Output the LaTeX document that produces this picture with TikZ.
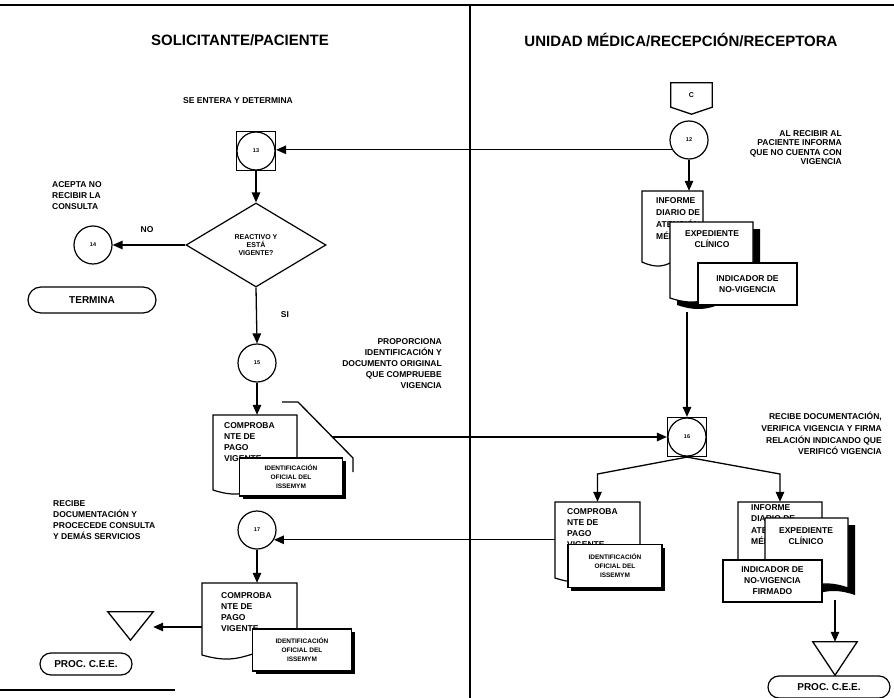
\documentclass[tikz,border=0pt]{standalone}
\usepackage{fontspec}
\setmainfont{Liberation Sans}
\usetikzlibrary{arrows.meta,shapes.geometric,fit,shadows}

% document symbol: flat top, wavy bottom; #1 extra style, #2 name, (#3,#4) top left, (#5,#6) bottom left end of the wave
\newcommand\drawdoc[6][]{%
  \filldraw[docline,#1] (#3,#4) -- (#5,#4) -- (#5,#6)
    .. controls ({(#3+#5)/2},{#6-14}) and ({(#3+#5)/2},{#6+14}) .. (#3,#6) -- cycle;
  \node[fit={(#3,#4) (#5,#6)}, inner sep=0pt] (#2) {};}
% same symbol with a solid black shadow offset by #6
\newcommand\shadowdoc[6]{%
  \begin{scope}[shift={(#6,#6)}]
    \fill[black] (#2,#3) -- (#4,#3) -- (#4,#5)
      .. controls ({(#2+#4)/2},{#5-14}) and ({(#2+#4)/2},{#5+14}) .. (#2,#5) -- cycle;
  \end{scope}
  \drawdoc{#1}{#2}{#3}{#4}{#5}}

\begin{document}
\begin{tikzpicture}[x=1pt,y=-1pt,
  frame/.style={line width=1.2pt},
  conn/.style={line width=1.3pt},
  arrow/.style={conn,-{Triangle[length=10pt,width=8.5pt]}},
  head/.style={font=\fontsize{15}{17}\selectfont\bfseries,inner sep=0pt},
  lbl/.style={font=\fontsize{8.5}{11}\selectfont\bfseries,inner sep=0pt},
  num/.style={font=\fontsize{5.5}{6}\selectfont\bfseries},
  stepcircle/.style={circle,draw,line width=1.2pt,minimum size=38pt,inner sep=0pt,fill=white,num},
  ringbox/.style={rectangle,draw,line width=1.2pt,minimum size=39pt,inner sep=0pt,fill=white,num,
    path picture={\draw[line width=1.2pt] (path picture bounding box.center) circle (19pt);}},
  decision/.style={diamond,draw,line width=1.2pt,minimum width=140pt,minimum height=84pt,
    aspect=1.67,inner sep=0pt,align=center,font=\fontsize{7}{8}\selectfont\bfseries},
  terminal/.style={rectangle,rounded corners=11pt,draw,line width=1.2pt,inner sep=0pt,
    font=\fontsize{10}{12}\selectfont\bfseries},
  docline/.style={line width=1.2pt,draw=black,fill=white},
  doctxt/.style={font=\fontsize{8.5}{11}\selectfont\bfseries,inner sep=0pt,align=left},
  idbox/.style={rectangle,draw,line width=1.2pt,fill=white,inner sep=0pt,align=center,
    font=\fontsize{6.5}{9}\selectfont\bfseries,
    drop shadow={shadow xshift=3pt,shadow yshift=-3pt,opacity=1,fill=black}},
  plainbox/.style={rectangle,draw,line width=1.2pt,fill=white,inner sep=0pt,align=center,
    font=\fontsize{8.5}{11}\selectfont\bfseries}]
\useasboundingbox (0,0) rectangle (894,698);

% page frame and swimlane divider
\draw[frame] (0,5) -- (894,5);
\draw[frame] (470,5) -- (470,698);
\draw[frame] (0,690) -- (175,690);

\node[head] (hL) at (240,40) {SOLICITANTE/PACIENTE};
\node[head] (hR) at (681,40) {UNIDAD MÉDICA/RECEPCIÓN/RECEPTORA};

% ---------- left lane ----------
\node[lbl] (tSE) at (238,101) {SE ENTERA Y DETERMINA};
\node[ringbox] (n13) at (256,151) {13};
\node[decision] (dec) at (256,245) {REACTIVO Y\\ESTÁ\\VIGENTE?};
\node[stepcircle] (n14) at (93,245) {14};
\node[lbl] (tNO) at (147,230) {NO};
\node[lbl,align=left,anchor=north west] (tAcepta) at (52,181) {ACEPTA NO\\RECIBIR LA\\CONSULTA};
\node[terminal,rounded corners=13pt,minimum width=128pt,minimum height=26pt] (term1) at (92,300) {TERMINA};
\node[lbl] (tSI) at (285,315) {SI};
\node[stepcircle] (n15) at (257,363) {15};
\node[lbl,align=right,anchor=north east] (tProp) at (442,338)
  {PROPORCIONA\\IDENTIFICACIÓN Y\\DOCUMENTO ORIGINAL\\QUE COMPRUEBE\\VIGENCIA};

\draw[conn] (282,402) -- (298,402) -- (353,458) -- (353,472);
\coordinate (jL) at (332,437);

\drawdoc{docL1}{213}{415}{297}{490}
\node[doctxt,anchor=north west] (docL1t) at (224,422) {COMPROBA\\NTE DE\\PAGO\\VIGENTE};
\node[idbox,minimum width=103pt,minimum height=38pt] (idL1) at (291,477) {IDENTIFICACIÓN\\OFICIAL DEL\\ISSEMYM};

\node[stepcircle] (n17) at (257,530) {17};
\node[lbl,align=left,anchor=north west] (tRec2) at (53,500)
  {RECIBE\\DOCUMENTACIÓN Y\\PROCECEDE CONSULTA\\Y DEMÁS SERVICIOS};

\drawdoc{docL2}{202}{583}{297}{655}
\node[doctxt,anchor=north west] (docL2t) at (221,592) {COMPROBA\\NTE DE\\PAGO\\VIGENTE};
\node[idbox,minimum width=99pt,minimum height=42pt] (idL2) at (302,650) {IDENTIFICACIÓN\\OFICIAL DEL\\ISSEMYM};

\node[fit={(108,612) (153,640)},inner sep=0pt] (triL) {};
\draw[conn] (triL.north west) -- (triL.north east) -- (triL.south) -- cycle;
\node[terminal,minimum width=92pt,minimum height=22pt] (term2) at (86,664) {PROC. C.E.E.};

% ---------- right lane ----------
\node[fit={(671,83) (712,114)},inner sep=0pt] (offC) {};
\draw[conn] (offC.north west) -- (offC.north east) -- ([yshift=7pt]offC.south east)
  -- (offC.south) -- ([yshift=7pt]offC.south west) -- cycle;
\node[font=\fontsize{7}{8}\selectfont\bfseries] (tC) at ([yshift=3pt]offC.center) {C};

\node[stepcircle] (n12) at (689,140) {12};
\node[lbl,align=right,anchor=north east,font=\fontsize{8.5}{9.5}\selectfont\bfseries] (tAL) at (842,130)
  {AL RECIBIR AL\\PACIENTE INFORMA\\QUE NO CUENTA CON\\VIGENCIA};

\drawdoc{docA}{642}{191}{703}{262}
\node[doctxt,anchor=north west,font=\fontsize{8.5}{12}\selectfont\bfseries] (docAt) at (656,197) {INFORME\\DIARIO DE\\ATENCIÓN\\MÉDICA};
\shadowdoc{docB}{670}{222}{753}{298}{7}
\node[doctxt,align=center] (docBt) at (712,239) {EXPEDIENTE\\CLÍNICO};
\node[plainbox,minimum width=99pt,minimum height=42pt] (rectC) at (747.5,284) {INDICADOR DE\\NO-VIGENCIA};
\coordinate (stackA) at (687,312);

\node[ringbox] (n16) at (687,437) {16};
\node[lbl,align=right,anchor=north east,font=\fontsize{8.5}{11.7}\selectfont\bfseries] (tRec) at (882,412)
  {RECIBE DOCUMENTACIÓN,\\VERIFICA VIGENCIA Y FIRMA\\RELACIÓN INDICANDO QUE\\VERIFICÓ VIGENCIA};

\coordinate (bl) at (597.5,474);
\coordinate (br) at (780,474);

\drawdoc{docR1}{555}{502}{640}{578}
\node[doctxt,anchor=north west] (docR1t) at (567,508) {COMPROBA\\NTE DE\\PAGO\\VIGENTE};
\node[idbox,minimum width=94pt,minimum height=43pt] (idR1) at (615,566) {IDENTIFICACIÓN\\OFICIAL DEL\\ISSEMYM};

\drawdoc{docR2}{738}{502}{822}{565}
\node[doctxt,anchor=north west,font=\fontsize{8.5}{11.5}\selectfont\bfseries] (docR2t) at (751,504) {INFORME\\DIARIO DE\\ATENCIÓN\\MÉDICA};
\shadowdoc{docR3}{765}{518}{848}{588}{7}
\node[doctxt,align=center] (docR3t) at (806,536) {EXPEDIENTE\\CLÍNICO};
\node[plainbox,minimum width=99pt,minimum height=42pt] (rectR) at (772.5,581) {INDICADOR DE\\NO-VIGENCIA\\FIRMADO};
\coordinate (stackB) at (835,600);

\node[fit={(813,642) (857,675)},inner sep=0pt] (triR) {};
\draw[conn] (triR.north west) -- (triR.north east) -- (triR.south) -- cycle;
\node[terminal,minimum width=122pt,minimum height=22pt] (term3) at (829,687) {PROC. C.E.E.};

% ---------- connectors ----------
\draw[arrow] (n12.210) -- (n12.210 -| n13.east);
\draw[arrow] (n13) -- (dec);
\draw[arrow] (dec.west) -- (n14.east);
\draw[arrow] (dec.south) -- (n15.north);
\draw[arrow] (n15.south) -- (n15.south |- docL1.north);
\draw[arrow] (jL) -- (n16.west);
\draw[arrow] (n12.south) -- (n12.south |- docA.north);
\draw[arrow] (stackA) -- (n16.north);
\draw[arrow] (n16.south) -- (bl) -- (docR1.north);
\draw[arrow] (n16.south) -- (br) -- (docR2.north);
\draw[arrow] (docR1.west |- n17.-30) -- (n17.-30);
\draw[arrow] (n17.south) -- (n17.south |- docL2.north);
\draw[arrow] ([yshift=-8pt]docL2.west) -- ([yshift=-8pt]docL2.west -| triL.east);
\draw[arrow] (stackB) -- (triR.north);
\end{tikzpicture}
\end{document}
